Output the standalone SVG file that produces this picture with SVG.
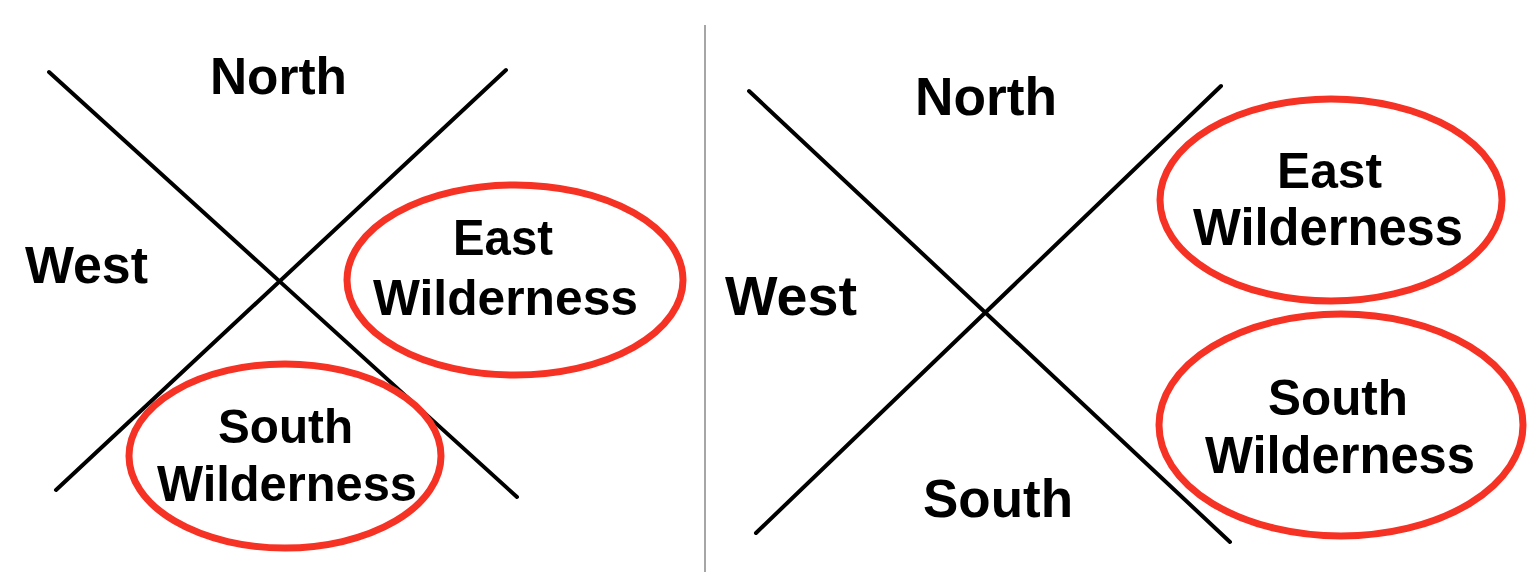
<svg xmlns="http://www.w3.org/2000/svg" width="1538" height="588" viewBox="0 0 1538 588">
<style>
.t{font-family:"Liberation Sans",Arial,sans-serif;font-weight:bold;fill:#000;text-anchor:middle}
.ax{stroke:#000;stroke-width:4;stroke-linecap:round}
.ring{fill:none;stroke:#f53224;stroke-width:7}
</style>
<rect width="1538" height="588" fill="#fff"/>
<line x1="705" y1="25" x2="705" y2="572" stroke="#888" stroke-width="1.5"/>
<g id="connectors">
<line class="ax" x1="49" y1="72" x2="517" y2="497"/>
<line class="ax" x1="506" y1="70" x2="56" y2="490"/>
<line class="ax" x1="749" y1="91" x2="1230" y2="542"/>
<line class="ax" x1="1221" y1="86" x2="756" y2="533"/>
</g>
<g id="left-north"><text class="t" x="278.5" y="94" font-size="52" textLength="137" lengthAdjust="spacingAndGlyphs">North</text></g>
<g id="left-west"><text class="t" x="86.5" y="283" font-size="51" textLength="123" lengthAdjust="spacingAndGlyphs">West</text></g>
<g id="left-east-wilderness">
<ellipse class="ring" cx="515" cy="280" rx="168" ry="95"/>
<text class="t" x="503" y="255" font-size="50" textLength="100" lengthAdjust="spacingAndGlyphs">East</text>
<text class="t" x="505.5" y="315" font-size="50" textLength="265" lengthAdjust="spacingAndGlyphs">Wilderness</text>
</g>
<g id="left-south-wilderness">
<ellipse class="ring" cx="285" cy="456" rx="156" ry="92"/>
<text class="t" x="285.5" y="443" font-size="49" textLength="135" lengthAdjust="spacingAndGlyphs">South</text>
<text class="t" x="287" y="501" font-size="50" textLength="260" lengthAdjust="spacingAndGlyphs">Wilderness</text>
</g>
<g id="right-north"><text class="t" x="986" y="115" font-size="54" textLength="142" lengthAdjust="spacingAndGlyphs">North</text></g>
<g id="right-west"><text class="t" x="791" y="315" font-size="55" textLength="132" lengthAdjust="spacingAndGlyphs">West</text></g>
<g id="right-south"><text class="t" x="998" y="517" font-size="53" textLength="150" lengthAdjust="spacingAndGlyphs">South</text></g>
<g id="right-east-wilderness">
<ellipse class="ring" cx="1331" cy="200" rx="171" ry="101"/>
<text class="t" x="1329.5" y="188" font-size="50" textLength="105" lengthAdjust="spacingAndGlyphs">East</text>
<text class="t" x="1328" y="245" font-size="51" textLength="270" lengthAdjust="spacingAndGlyphs">Wilderness</text>
</g>
<g id="right-south-wilderness">
<ellipse class="ring" cx="1341" cy="425" rx="182" ry="111"/>
<text class="t" x="1338" y="415" font-size="50" textLength="140" lengthAdjust="spacingAndGlyphs">South</text>
<text class="t" x="1340" y="473" font-size="51" textLength="270" lengthAdjust="spacingAndGlyphs">Wilderness</text>
</g>
</svg>
